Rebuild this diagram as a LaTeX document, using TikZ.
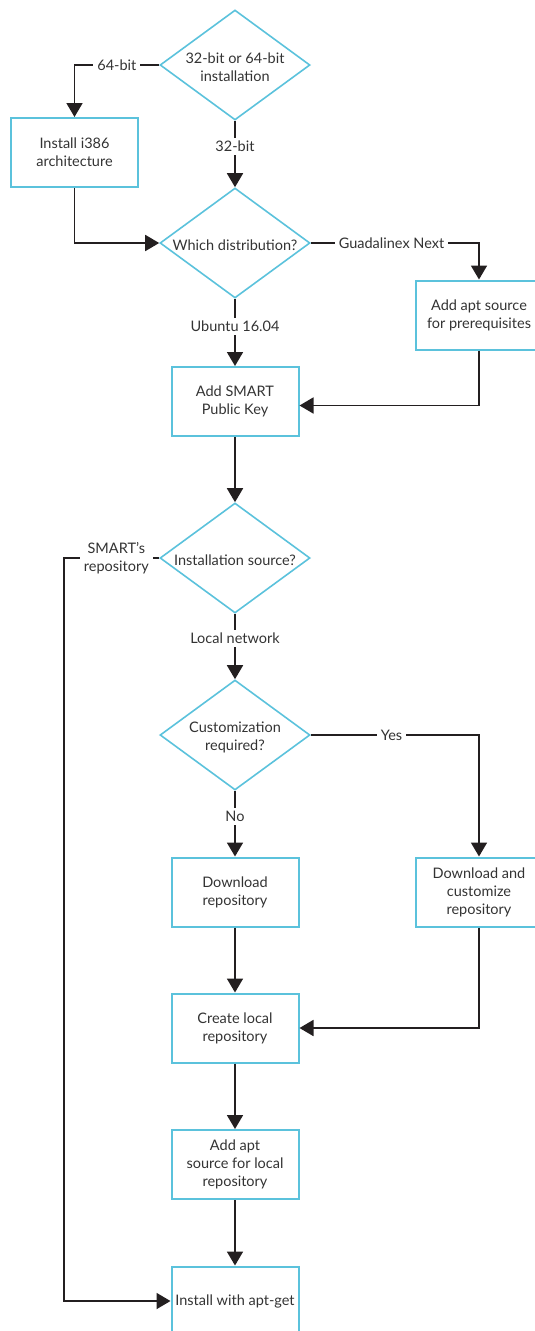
\documentclass[tikz,border=0pt]{standalone}
\usepackage{fontspec}
\setmainfont{Lato}
\usetikzlibrary{shapes.geometric,arrows.meta,calc}
\definecolor{boxblue}{HTML}{5BC2DC}
\definecolor{txtgray}{HTML}{333333}
\definecolor{linegray}{HTML}{231F20}
\begin{document}
\begin{tikzpicture}[x=1pt,y=-1pt,
  font=\fontsize{14.5pt}{18pt}\selectfont,
  stepbox/.style={draw=boxblue,line width=2pt,rectangle,minimum width=127pt,minimum height=69pt,inner sep=2pt,align=center,text=txtgray},
  dia/.style={draw=boxblue,line width=1.6pt,diamond,minimum width=150pt,minimum height=110pt,inner sep=0pt},
  dtxt/.style={align=center,text=txtgray,inner sep=0pt,yshift=-2pt},
  arr/.style={draw=linegray,line width=1.8pt,-{Triangle[length=14pt,width=16pt]}},
  lab/.style={fill=white,text=txtgray,inner xsep=4pt,inner ysep=3pt,align=center}]
\useasboundingbox (0,0) rectangle (535,1331);
% diamonds
\node[dia,label={[dtxt]center:32-bit or 64-bit\\installation}] (d1) at (235,65) {};
\node[dia,label={[dtxt]center:Which distribution?}] (d2) at (235,243) {};
\node[dia,label={[dtxt]center:Installation source?}] (d3) at (235,558) {};
\node[dia,label={[dtxt]center:Customization\\required?}] (d4) at (235,735) {};
% boxes
\node[stepbox] (i386) at (74.5,152.5) {Install i386\\architecture};
\node[stepbox] (prereq) at (479,315) {Add apt source\\for prerequisites};
\node[stepbox] (key) at (235,401.5) {Add SMART\\Public Key};
\node[stepbox] (dl) at (235,892) {Download\\repository};
\node[stepbox] (cust) at (479,892) {Download and\\customize\\repository};
\node[stepbox] (create) at (235,1028) {Create local\\repository};
\node[stepbox] (aptlocal) at (235,1164.5) {Add apt\\source for local\\repository};
\node[stepbox] (install) at (235,1301) {Install with apt-get};
\coordinate (c1) at (64,558);
% connectors
\draw[arr] (d1.west) -| node[lab,pos=0.25]{64-bit} (i386.north);
\draw[arr] (d1.south) -- node[lab,pos=0.39]{32-bit} (d2.north);
\draw[arr] (i386.south) |- (d2.west);
\draw[arr] (d2.east) -| node[lab,pos=0.24]{Guadalinex Next} (prereq.north);
\draw[arr] (d2.south) -- node[lab,pos=0.41]{Ubuntu 16.04} (key.north);
\draw[arr] (prereq.south) |- ([yshift=-4pt]key.east);
\draw[arr] (key.south) -- (d3.north);
\draw[arr] (d3.west) -- node[lab,pos=0.45,inner ysep=1pt]{SMART’s\\repository} (c1) |- (install.west);
\draw[arr] (d3.south) -- node[lab,pos=0.38]{Local network} (d4.north);
\draw[arr] (d4.east) -| node[lab,pos=0.24]{Yes} (cust.north);
\draw[arr] (d4.south) -- node[lab,pos=0.39]{No} (dl.north);
\draw[arr] (dl.south) -- (create.north);
\draw[arr] (cust.south) |- (create.east);
\draw[arr] (create.south) -- (aptlocal.north);
\draw[arr] (aptlocal.south) -- (install.north);
\end{tikzpicture}
\end{document}
